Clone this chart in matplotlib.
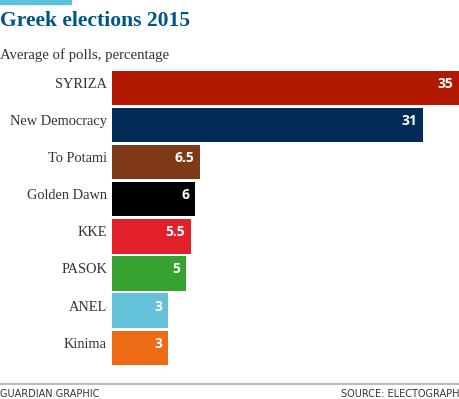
import matplotlib
matplotlib.use("Agg")
import matplotlib.pyplot as plt
from matplotlib.lines import Line2D
from matplotlib.patches import Rectangle
from matplotlib import font_manager

parties = ["SYRIZA", "New Democracy", "To Potami", "Golden Dawn", "KKE", "PASOK", "ANEL", "Kinima"]
values = [35, 31, 6.5, 6, 5.5, 5, 3, 3]
value_labels = ["35", "31", "6.5", "6", "5.5", "5", "3", "3"]
colors = ["#b31900", "#022c57", "#7e3a17", "#000000", "#e1202a", "#37a22f", "#63c2da", "#ec6b14"]

title = "Greek elections 2015"
subtitle = "Average of polls, percentage"
footer_left = "GUARDIAN GRAPHIC"
footer_right = "SOURCE: ELECTOGRAPH"

names = {f.name for f in font_manager.fontManager.ttflist}
narrow = "Liberation Sans Narrow" if "Liberation Sans Narrow" in names else "DejaVu Sans"

W, H = 460, 399
fig = plt.figure(figsize=(W / 100, H / 100), dpi=100)

x0 = -3.15  # bars begin at axis left edge
ax = fig.add_axes([112 / W, 1 - 367.7 / H, (460 - 112) / W, (367.7 - 71) / H])
n = len(parties)
ypos = list(range(n))
ax.barh(ypos, [v - x0 for v in values], left=x0, height=0.922, color=colors)
ax.set_xlim(x0, 35.05)
ax.set_ylim(n - 0.46, -0.46)
ax.axis("off")

for i, (p, v, lab) in enumerate(zip(parties, values, value_labels)):
    ax.annotate(p, xy=(x0, i), xytext=(-5, 0), textcoords="offset pixels",
                ha="right", va="baseline", fontsize=10.4, family="Liberation Serif",
                color="#333333")
    ax.annotate(lab, xy=(v, i), xytext=(-6, 0), textcoords="offset pixels",
                ha="right", va="baseline", fontsize=10, family="Open Sans",
                fontweight="bold", color="white")

# top accent line
fig.patches.append(Rectangle((0, 1 - 3.7 / H), 71 / W, 3.7 / H, transform=fig.transFigure,
                             color="#5cc1dc", zorder=5))
fig.text(0, 1 - 26 / H, title, ha="left", va="baseline", fontsize=15.6,
         family="Liberation Serif", fontweight="bold", color="#005689")
fig.text(0, 1 - 59.5 / H, subtitle, ha="left", va="baseline", fontsize=10.6,
         family="Liberation Serif", color="#333333")

fig.add_artist(Line2D([0, 1], [1 - 383.5 / H, 1 - 383.5 / H], transform=fig.transFigure,
                      color="#bdbdbd", linewidth=1.5))
fig.text(0, 2.3 / H, footer_left, ha="left", va="baseline", fontsize=7.0,
         family=narrow, color="#333333")
fig.text(1, 2.3 / H, footer_right, ha="right", va="baseline", fontsize=7.0,
         family=narrow, color="#333333")

fig.savefig("out.png", dpi=100, facecolor="white")
